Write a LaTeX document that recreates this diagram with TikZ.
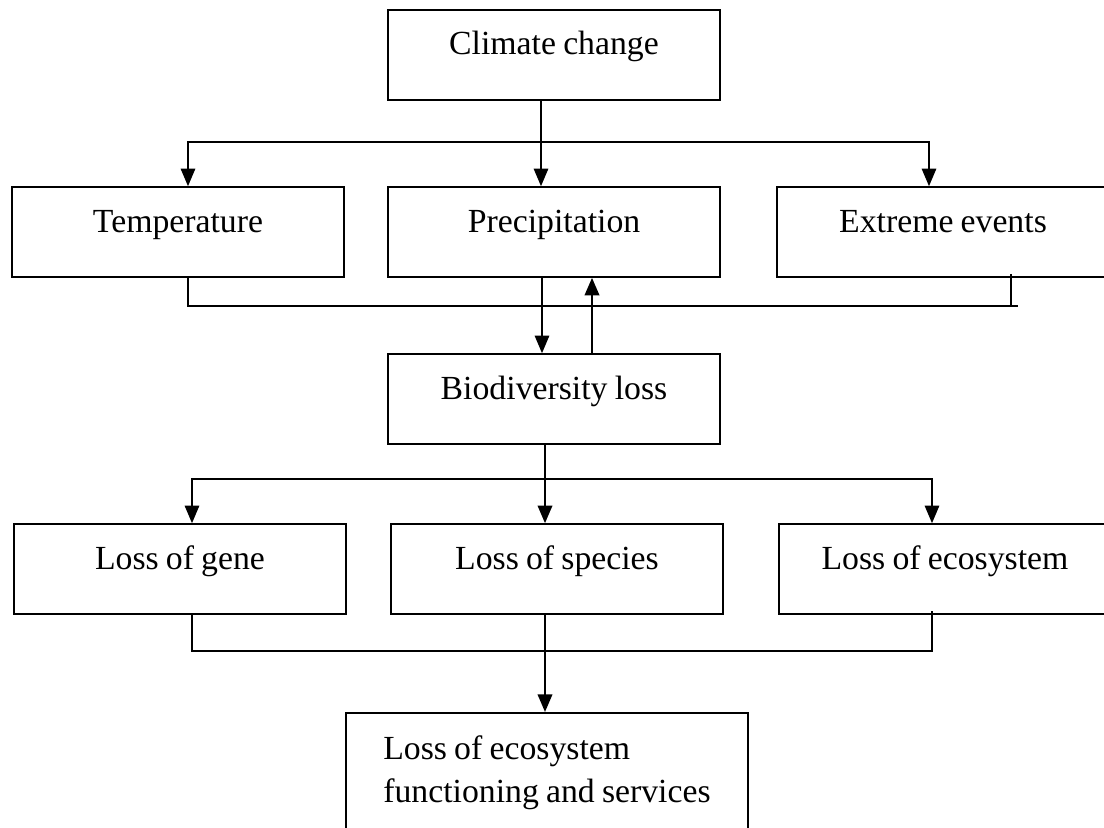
\documentclass[tikz,border=0pt]{standalone}
\usepackage{fontspec}
\setmainfont[WordSpace=0.85]{Liberation Serif}
\usepackage{tikz}
\usetikzlibrary{arrows.meta,positioning,calc}

\begin{document}
\begin{tikzpicture}[x=0.025cm, y=-0.025cm,
      box/.style={draw, line width=1.1pt, minimum width=8.3cm, minimum height=2.25cm,
        text height=0.5cm, text depth=0.5cm, inner sep=0pt, font=\fontsize{24}{30.6}\selectfont},
      line/.style={line width=1.2pt},
      arr/.style={line width=1.3pt, -{Triangle[length=0.44cm, width=0.36cm]}},
      arrs/.style={line width=1.3pt, {Triangle[length=0.44cm, width=0.36cm]}-{Triangle[length=0.44cm, width=0.36cm]}}]
      \clip (0,0) rectangle (1104,828);

      \node[box] (clim) at (554,55)  {Climate change};
      \node[box] (temp) at (178,232) {Temperature};
      \node[box] (prec) at (554,232) {Precipitation};
      \node[box] (extr) at (943,232) {Extreme events};
      \node[box] (bio)  at (554,399) {Biodiversity loss};
      \node[box] (gene) at (180,569) {Loss of gene};
      \node[box] (spec) at (557,569) {Loss of species};
      \node[box] (ecos) at (945,569) {Loss of ecosystem};
      \node[box, minimum width=10.05cm, minimum height=3cm, text height=, text depth=,
        align=left, anchor=north] (func) at (547,712)
        {Loss of ecosystem\\functioning and services\hspace{0.5cm}};

      \coordinate (busA) at (0,142);
      \coordinate (busB) at (0,306);
      \coordinate (busC) at (0,479);
      \coordinate (busD) at (0,651);
      \coordinate (endB) at (1018,306);

      \coordinate (t1) at ($(temp.north)+(10,0)$);
      \coordinate (e1) at ($(extr.north)+(-14,0)$);
      \coordinate (t2) at ($(temp.south)+(10,0)$);
      \coordinate (e2) at ($(extr.south)+(68,-4)$);
      \coordinate (g1) at ($(gene.north)+(12,0)$);
      \coordinate (k1) at ($(ecos.north)+(-13,0)$);
      \coordinate (g2) at ($(gene.south)+(12,0)$);
      \coordinate (k2) at ($(ecos.south)+(-13,-4)$);

      \draw[arr] ($(clim.south)+(-13,0)$) -- ($(prec.north)+(-13,0)$);
      \draw[arrs] (t1) -- (t1 |- busA) -- (e1 |- busA) -- (e1);

      \draw[line] (t2) -- (t2 |- busB) -- (endB);
      \draw[line] (e2) -- (e2 |- busB);
      \draw[arr] ($(prec.south)+(-12,0)$) -- ($(bio.north)+(-12,0)$);
      \draw[arr, line width=1.8pt] ($(bio.north)+(38,0)$) -- ($(prec.south)+(38,0)$);

      \draw[arr, line width=1.6pt] ($(bio.south)+(-9,0)$) -- ($(spec.north)+(-12,0)$);
      \draw[arrs] (g1) -- (g1 |- busC) -- (k1 |- busC) -- (k1);

      \draw[line] (g2) -- (g2 |- busD) -- (k2 |- busD) -- (k2);
      \draw[arr, line width=1.6pt] ($(spec.south)+(-12,0)$) -- ($(func.north)+(-2,0)$);
    \end{tikzpicture}
\end{document}
